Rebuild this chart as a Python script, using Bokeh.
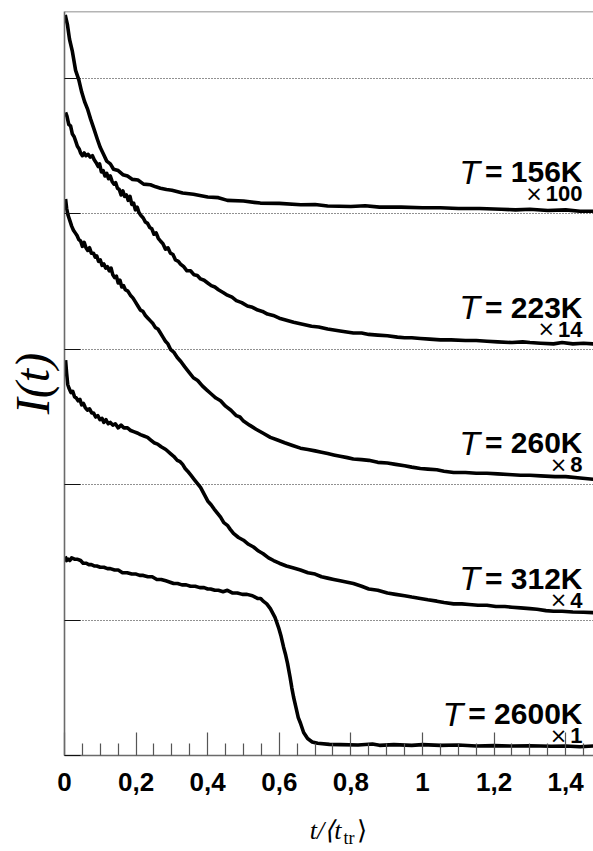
from bokeh.plotting import figure
from bokeh.layouts import column
from bokeh.models import Range1d, FixedTicker, Span, ColumnDataSource
from bokeh.core.properties import value
from bokeh.embed import file_html
from bokeh.resources import INLINE

# ---------------- data ----------------
temperatures = ["156K", "223K", "260K", "312K", "2600K"]
factors = ["100", "14", "8", "4", "1"]
offsets = [4, 3, 2, 1, 0]

trace_156K = [(0.002, 1.47), (0.008, 1.40), (0.014, 1.29), (0.022, 1.20), (0.031, 1.06),
              (0.040, 0.99), (0.048, 0.90), (0.056, 0.83), (0.065, 0.77), (0.073, 0.70),
              (0.082, 0.63), (0.092, 0.55), (0.100, 0.49), (0.109, 0.44), (0.118, 0.39),
              (0.128, 0.37), (0.137, 0.33), (0.150, 0.32), (0.163, 0.29), (0.176, 0.28),
              (0.190, 0.255), (0.205, 0.25), (0.221, 0.22), (0.240, 0.215), (0.255, 0.20),
              (0.268, 0.19), (0.285, 0.18), (0.30, 0.175), (0.33, 0.155), (0.36, 0.145),
              (0.40, 0.125), (0.43, 0.12), (0.455, 0.10), (0.50, 0.095), (0.547, 0.08),
              (0.60, 0.078), (0.66, 0.068), (0.70, 0.07), (0.735, 0.058), (0.80, 0.055),
              (0.84, 0.06), (0.88, 0.05), (0.94, 0.05), (1.00, 0.045), (1.05, 0.045),
              (1.10, 0.04), (1.16, 0.04), (1.22, 0.035), (1.26, 0.03), (1.30, 0.035),
              (1.35, 0.025), (1.40, 0.03), (1.44, 0.02), (1.478, 0.02)]

trace_223K = [(0.003, 1.75), (0.007, 1.72), (0.012, 1.66), (0.017, 1.65), (0.022, 1.59),
              (0.027, 1.57), (0.031, 1.54), (0.036, 1.50), (0.041, 1.48), (0.045, 1.45),
              (0.050, 1.43), (0.055, 1.45), (0.060, 1.43), (0.066, 1.44), (0.072, 1.42),
              (0.078, 1.43), (0.083, 1.40), (0.088, 1.38), (0.094, 1.35), (0.098, 1.37),
              (0.103, 1.31), (0.108, 1.32), (0.113, 1.28), (0.118, 1.30), (0.123, 1.26),
              (0.128, 1.28), (0.133, 1.24), (0.138, 1.22), (0.143, 1.23), (0.148, 1.19),
              (0.153, 1.18), (0.158, 1.14), (0.163, 1.17), (0.168, 1.13), (0.173, 1.14),
              (0.178, 1.10), (0.183, 1.13), (0.188, 1.07), (0.193, 1.08), (0.198, 1.03),
              (0.203, 1.05), (0.208, 1.01), (0.213, 0.99), (0.220, 0.97), (0.226, 0.94),
              (0.232, 0.93), (0.238, 0.90), (0.244, 0.89), (0.250, 0.85), (0.256, 0.86),
              (0.262, 0.82), (0.268, 0.80), (0.275, 0.78), (0.282, 0.74), (0.289, 0.75),
              (0.296, 0.71), (0.303, 0.70), (0.310, 0.66), (0.318, 0.65), (0.324, 0.63),
              (0.333, 0.61), (0.342, 0.58), (0.352, 0.58), (0.362, 0.55), (0.371, 0.545),
              (0.380, 0.52), (0.390, 0.51), (0.40, 0.49), (0.41, 0.47), (0.42, 0.46),
              (0.43, 0.44), (0.443, 0.42), (0.455, 0.40), (0.468, 0.385), (0.48, 0.36),
              (0.495, 0.345), (0.511, 0.32), (0.525, 0.31), (0.54, 0.29), (0.553, 0.28),
              (0.567, 0.26), (0.583, 0.25), (0.60, 0.23), (0.62, 0.215), (0.64, 0.20),
              (0.665, 0.185), (0.69, 0.17), (0.71, 0.165), (0.735, 0.15), (0.77, 0.135),
              (0.807, 0.12), (0.83, 0.12), (0.85, 0.11), (0.875, 0.105), (0.902, 0.10),
              (0.93, 0.09), (0.95, 0.085), (0.97, 0.085), (0.994, 0.08), (1.02, 0.075),
              (1.05, 0.07), (1.08, 0.07), (1.12, 0.065), (1.15, 0.065), (1.18, 0.06),
              (1.21, 0.055), (1.25, 0.05), (1.28, 0.055), (1.30, 0.05), (1.33, 0.045),
              (1.366, 0.04), (1.39, 0.05), (1.42, 0.04), (1.45, 0.045), (1.478, 0.04)]

trace_260K = [(0.003, 2.11), (0.006, 2.04), (0.010, 1.99), (0.015, 1.95), (0.020, 1.91),
              (0.025, 1.88), (0.030, 1.86), (0.035, 1.84), (0.040, 1.81), (0.045, 1.80),
              (0.050, 1.76), (0.055, 1.79), (0.060, 1.75), (0.065, 1.73), (0.070, 1.75),
              (0.075, 1.71), (0.081, 1.71), (0.086, 1.68), (0.090, 1.69), (0.095, 1.65),
              (0.100, 1.66), (0.105, 1.62), (0.110, 1.63), (0.115, 1.60), (0.120, 1.61),
              (0.125, 1.58), (0.130, 1.60), (0.135, 1.55), (0.140, 1.53), (0.145, 1.54),
              (0.150, 1.49), (0.155, 1.51), (0.160, 1.46), (0.165, 1.47), (0.170, 1.44),
              (0.177, 1.43), (0.184, 1.40), (0.191, 1.38), (0.198, 1.35), (0.205, 1.32),
              (0.212, 1.29), (0.219, 1.28), (0.226, 1.25), (0.233, 1.23), (0.24, 1.21),
              (0.247, 1.19), (0.254, 1.16), (0.261, 1.15), (0.268, 1.12), (0.275, 1.09),
              (0.282, 1.06), (0.289, 1.04), (0.296, 1.00), (0.305, 0.98), (0.315, 0.94),
              (0.325, 0.91), (0.336, 0.87), (0.348, 0.83), (0.36, 0.79), (0.372, 0.77),
              (0.385, 0.73), (0.397, 0.70), (0.41, 0.67), (0.423, 0.64), (0.436, 0.62),
              (0.45, 0.58), (0.465, 0.55), (0.48, 0.51), (0.49, 0.50), (0.50, 0.47),
              (0.517, 0.44), (0.535, 0.41), (0.555, 0.38), (0.575, 0.35), (0.595, 0.33),
              (0.615, 0.31), (0.637, 0.29), (0.659, 0.27), (0.68, 0.26), (0.70, 0.25),
              (0.718, 0.24), (0.735, 0.23), (0.752, 0.22), (0.77, 0.21), (0.79, 0.20),
              (0.807, 0.19), (0.83, 0.185), (0.85, 0.18), (0.875, 0.165), (0.902, 0.16),
              (0.925, 0.15), (0.95, 0.14), (0.97, 0.13), (0.994, 0.12), (1.015, 0.115),
              (1.04, 0.11), (1.06, 0.10), (1.087, 0.09), (1.12, 0.09), (1.15, 0.085),
              (1.18, 0.085), (1.21, 0.08), (1.24, 0.075), (1.274, 0.07), (1.30, 0.07),
              (1.33, 0.065), (1.37, 0.06), (1.40, 0.06), (1.44, 0.05), (1.478, 0.04)]

trace_312K = [(0.003, 1.92), (0.006, 1.82), (0.009, 1.74), (0.013, 1.71), (0.018, 1.68),
              (0.023, 1.69), (0.028, 1.65), (0.033, 1.64), (0.038, 1.62), (0.043, 1.63),
              (0.048, 1.59), (0.053, 1.60), (0.058, 1.57), (0.064, 1.55), (0.070, 1.56),
              (0.076, 1.53), (0.081, 1.53), (0.087, 1.50), (0.093, 1.51), (0.099, 1.48),
              (0.105, 1.49), (0.110, 1.46), (0.116, 1.48), (0.122, 1.45), (0.128, 1.46),
              (0.135, 1.44), (0.142, 1.45), (0.150, 1.42), (0.158, 1.44), (0.166, 1.42),
              (0.176, 1.42), (0.185, 1.40), (0.195, 1.39), (0.205, 1.38), (0.212, 1.37),
              (0.222, 1.36), (0.232, 1.35), (0.241, 1.33), (0.250, 1.31), (0.260, 1.30),
              (0.270, 1.28), (0.283, 1.26), (0.296, 1.23), (0.305, 1.21), (0.315, 1.18),
              (0.323, 1.17), (0.330, 1.15), (0.337, 1.12), (0.344, 1.10), (0.353, 1.07),
              (0.362, 1.04), (0.371, 1.01), (0.38, 0.98), (0.39, 0.93), (0.40, 0.88),
              (0.41, 0.85), (0.418, 0.82), (0.427, 0.79), (0.436, 0.76), (0.445, 0.72),
              (0.455, 0.70), (0.463, 0.67), (0.472, 0.64), (0.486, 0.61), (0.50, 0.59),
              (0.514, 0.56), (0.528, 0.54), (0.542, 0.51), (0.555, 0.49), (0.57, 0.46),
              (0.584, 0.44), (0.60, 0.42), (0.62, 0.40), (0.64, 0.385), (0.659, 0.37),
              (0.68, 0.35), (0.70, 0.34), (0.718, 0.32), (0.735, 0.31), (0.752, 0.30),
              (0.77, 0.29), (0.79, 0.28), (0.807, 0.27), (0.83, 0.25), (0.85, 0.23),
              (0.875, 0.22), (0.902, 0.20), (0.925, 0.19), (0.95, 0.18), (0.97, 0.17),
              (0.994, 0.16), (1.015, 0.15), (1.04, 0.14), (1.06, 0.13), (1.087, 0.12),
              (1.11, 0.12), (1.13, 0.115), (1.155, 0.11), (1.18, 0.11), (1.205, 0.10),
              (1.23, 0.10), (1.25, 0.095), (1.274, 0.09), (1.30, 0.085), (1.32, 0.08),
              (1.345, 0.07), (1.366, 0.065), (1.39, 0.065), (1.42, 0.06), (1.45, 0.058),
              (1.478, 0.055)]

trace_2600K = [(0.002, 1.47), (0.006, 1.44), (0.010, 1.45), (0.015, 1.44), (0.020, 1.46),
               (0.028, 1.45), (0.035, 1.45), (0.045, 1.44), (0.052, 1.42), (0.060, 1.42),
               (0.068, 1.41), (0.075, 1.41), (0.083, 1.40), (0.090, 1.40), (0.100, 1.39),
               (0.110, 1.39), (0.120, 1.38), (0.128, 1.38), (0.140, 1.37), (0.150, 1.37),
               (0.162, 1.35), (0.175, 1.35), (0.188, 1.34), (0.20, 1.34), (0.21, 1.33),
               (0.22, 1.33), (0.233, 1.32), (0.245, 1.32), (0.258, 1.30), (0.27, 1.30),
               (0.283, 1.29), (0.295, 1.28), (0.305, 1.27), (0.316, 1.27), (0.328, 1.26),
               (0.34, 1.26), (0.352, 1.25), (0.365, 1.25), (0.378, 1.24), (0.39, 1.24),
               (0.40, 1.23), (0.408, 1.23), (0.42, 1.22), (0.43, 1.22), (0.443, 1.21),
               (0.455, 1.22), (0.47, 1.20), (0.483, 1.20), (0.497, 1.19), (0.51, 1.19),
               (0.525, 1.18), (0.539, 1.16), (0.548, 1.16), (0.555, 1.14), (0.565, 1.12),
               (0.575, 1.085), (0.588, 1.02), (0.598, 0.945), (0.605, 0.88), (0.612, 0.80),
               (0.618, 0.74), (0.623, 0.68), (0.630, 0.58), (0.635, 0.50), (0.640, 0.43),
               (0.647, 0.35), (0.653, 0.28), (0.659, 0.24), (0.668, 0.17), (0.679, 0.125),
               (0.692, 0.10), (0.707, 0.09), (0.74, 0.082), (0.771, 0.08), (0.82, 0.078),
               (0.86, 0.085), (0.88, 0.075), (0.92, 0.08), (0.97, 0.075), (1.00, 0.08),
               (1.05, 0.075), (1.10, 0.078), (1.15, 0.07), (1.20, 0.073), (1.25, 0.07),
               (1.30, 0.072), (1.36, 0.068), (1.40, 0.07), (1.44, 0.065), (1.478, 0.07)]

traces = [trace_156K, trace_223K, trace_260K, trace_312K, trace_2600K]

x_ticks = [0, 0.2, 0.4, 0.6, 0.8, 1.0, 1.2, 1.4]
x_tick_labels = ["0", "0,2", "0,4", "0,6", "0,8", "1", "1,2", "1,4"]
x_minor_ticks = [0.05, 0.1, 0.15, 0.25, 0.3, 0.35, 0.45, 0.5, 0.55, 0.65, 0.7, 0.75,
                 0.85, 0.9, 0.95, 1.05, 1.1, 1.15, 1.25, 1.3, 1.35, 1.45]
y_ticks = [0, 1, 2, 3, 4, 5]

# ---------------- main figure ----------------
X_END = 1.4777
Y_END = 5.495
PX_PER_X = 358.0     # pixels per x unit (frame 529 px wide)
PX_PER_Y = 135.4     # pixels per y unit (frame 744 px high)

p = figure(width=593, height=804, x_range=Range1d(0, X_END), y_range=Range1d(0, Y_END),
           output_backend="svg", toolbar_location=None,
           min_border_left=64, min_border_right=0, min_border_top=11, min_border_bottom=49)
p.outline_line_color = None
p.background_fill_color = "white"
p.border_fill_color = "white"

xa = p.xaxis[0]
xa.ticker = FixedTicker(ticks=x_ticks, minor_ticks=x_minor_ticks)
xa.major_label_overrides = dict(zip(x_ticks, x_tick_labels))
xa.axis_line_color = "#6a6a6a"
xa.axis_line_width = 1.6
xa.major_tick_in = 23
xa.major_tick_out = 0
xa.minor_tick_in = 12
xa.minor_tick_out = 0
xa.major_tick_line_color = "#555555"
xa.minor_tick_line_color = "#555555"
xa.major_tick_line_width = 1.2
xa.minor_tick_line_width = 1.2
xa.major_label_text_font = "Liberation Sans"
xa.major_label_text_font_style = "bold"
xa.major_label_text_font_size = "26px"
xa.major_label_text_color = "black"
xa.major_label_standoff = 17

ya = p.yaxis[0]
ya.ticker = FixedTicker(ticks=y_ticks, minor_ticks=[])
ya.major_label_overrides = {t: "" for t in y_ticks}
ya.axis_line_color = "#6a6a6a"
ya.axis_line_width = 1.6
ya.major_tick_in = 16
ya.major_tick_out = 0
ya.minor_tick_in = 0
ya.minor_tick_out = 0
ya.major_tick_line_color = "#111111"
ya.major_tick_line_width = 1.2
ya.major_label_standoff = 0
ya.axis_label = "I(t)"
ya.axis_label_text_font = "Liberation Serif"
ya.axis_label_text_font_style = "italic"
ya.axis_label_text_font_size = "48px"
ya.axis_label_text_color = "black"
ya.axis_label_standoff = 6

p.xgrid.visible = False
p.ygrid.ticker = FixedTicker(ticks=[1, 2, 3, 4, 5])
p.ygrid.grid_line_color = "#222222"
p.ygrid.grid_line_width = 1
p.ygrid.grid_line_dash = "1 2"

p.add_layout(Span(location=Y_END, dimension="width", line_color="#6a6a6a", line_width=1.6))

# ---------------- curves ----------------
for trace, off in zip(traces, offsets):
    ts = [a for a, b in trace]
    vs = [b + off for a, b in trace]
    p.line(ts, vs, line_color="black", line_width=3.6, line_join="round")

# ---------------- curve labels ----------------
MAIN_SIZE = 30
MULT_SIZE = 22
bold_w = {"=": 0.584, " ": 0.278, "K": 0.722}
def em_width(s):
    return sum(bold_w.get(c, 0.556) for c in s)

LX = (582 - 64) / PX_PER_X
main_text = ["= " + t for t in temperatures]
src_main = ColumnDataSource(dict(
    x=[LX] * 5,
    y=[o + 42 / PX_PER_Y for o in offsets], text=main_text,
    tx=[-(em_width(s) * MAIN_SIZE + 5) for s in main_text],
    fy=[o + 20 / PX_PER_Y for o in offsets], ft=factors,
    fx=[-(len(f) * 0.556 * MULT_SIZE + 3) for f in factors],
))
p.text(x="x", y="y", text="text", source=src_main, text_align="right",
       text_baseline="middle", text_font=value("Liberation Sans"),
       text_font_style="bold", text_font_size=f"{MAIN_SIZE}px", text_color="black")
p.text(x="x", y="y", text=value("T"), x_offset="tx", source=src_main, text_align="right",
       text_baseline="middle", text_font=value("Liberation Sans"),
       text_font_style="italic", text_font_size="34px", text_color="black")
p.text(x="x", y="fy", text="ft", source=src_main, text_align="right",
       text_baseline="middle", text_font=value("Liberation Sans"),
       text_font_style="bold", text_font_size=f"{MULT_SIZE}px", text_color="black")
p.text(x="x", y="fy", text=value("\u00d7"), x_offset="fx", source=src_main, text_align="right",
       text_baseline="middle", text_font=value("DejaVu Sans"),
       text_font_size="21px", text_color="black")

# ---------------- x axis title strip:  t/<t_tr>  (frame aligned with main plot) ----------------
q = figure(width=593, height=47, x_range=Range1d(0, X_END), y_range=Range1d(0, 47),
           output_backend="svg", toolbar_location=None, x_axis_location=None,
           y_axis_location=None, min_border_left=64, min_border_right=0,
           min_border_top=0, min_border_bottom=0)
q.outline_line_color = None
q.xgrid.visible = False
q.ygrid.visible = False
q.text(x=[(341 - 64) / PX_PER_X], y=[21], text=["t/\u27e8t"], text_align="right",
       text_baseline="middle", text_font=value("Liberation Serif"),
       text_font_style="italic", text_font_size="26px", text_color="black")
q.text(x=[(343 - 64) / PX_PER_X], y=[14], text=["tr"], text_align="left",
       text_baseline="middle", text_font=value("Liberation Serif"),
       text_font_size="18px", text_color="black")
q.text(x=[(357 - 64) / PX_PER_X], y=[21], text=["\u27e9"], text_align="left",
       text_baseline="middle", text_font=value("Liberation Serif"),
       text_font_size="26px", text_color="black")

layout = column(p, q, spacing=0)
open("out.html", "w").write(file_html(layout, INLINE))
